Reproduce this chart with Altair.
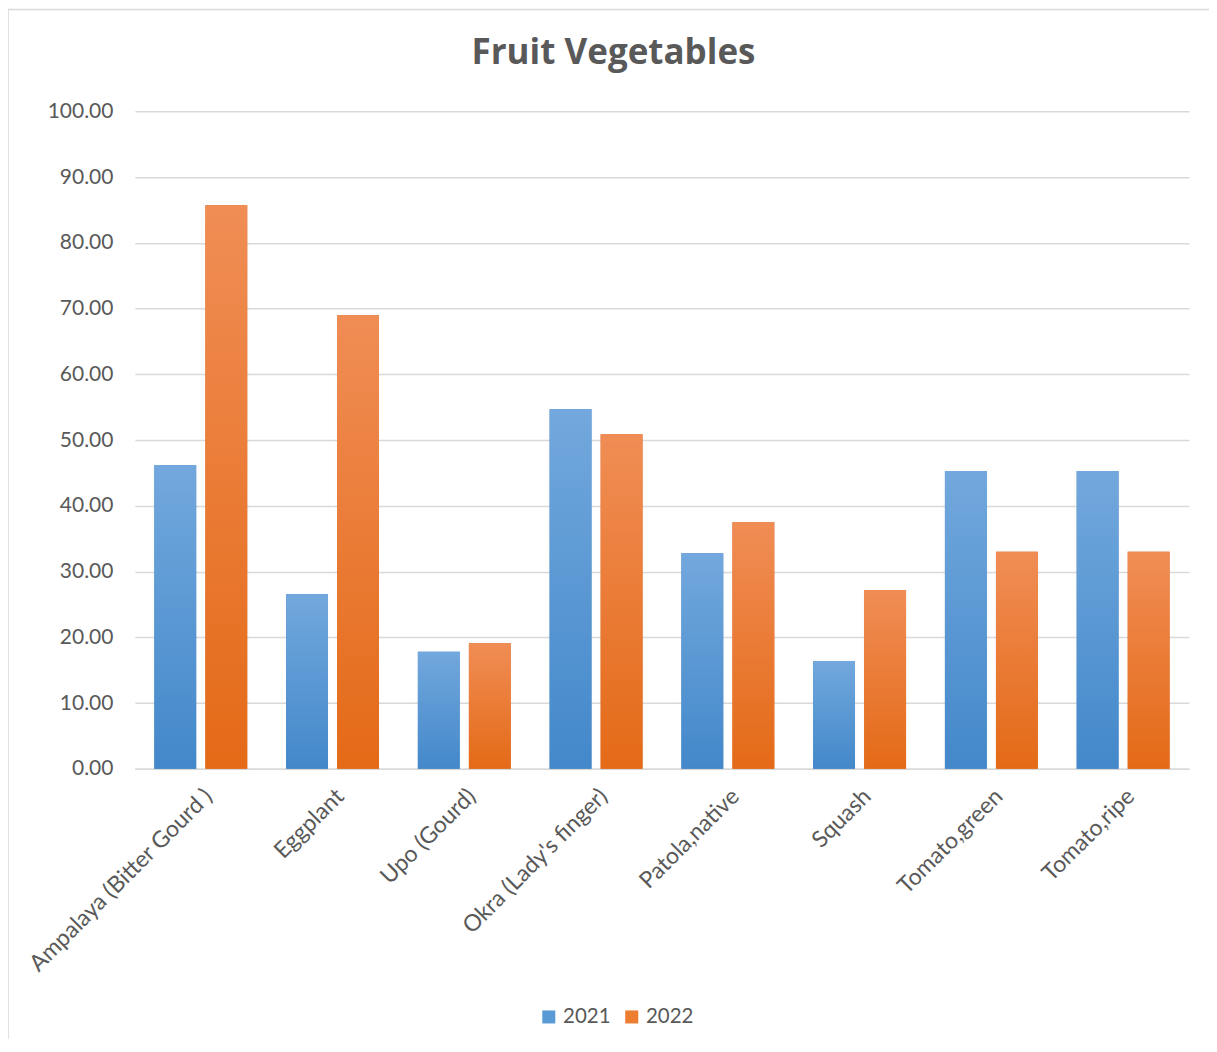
import altair as alt
import pandas as pd

categories = ["Ampalaya (Bitter Gourd )", "Eggplant", "Upo (Gourd)", "Okra (Lady's finger)",
              "Patola,native", "Squash", "Tomato,green", "Tomato,ripe"]
values_2021 = [46.2, 26.6, 17.8, 54.7, 32.8, 16.4, 45.3, 45.3]
values_2022 = [85.7, 69.0, 19.1, 50.9, 37.5, 27.2, 33.0, 33.0]
years = ["2021", "2022"]
title_text = "Fruit Vegetables"

rows = []
for c, a, b in zip(categories, values_2021, values_2022):
    rows.append({"category": c, "year": "2021", "value": a})
    rows.append({"category": c, "year": "2022", "value": b})
df = pd.DataFrame(rows)

FONT = "Lato"
GREY = "#595959"

x_enc = alt.X("category:N", sort=categories,
              scale=alt.Scale(paddingInner=0.295, paddingOuter=0.1475),
              axis=alt.Axis(title=None, labelAngle=-45, labelFontSize=23, labelColor=GREY,
                            labelFont=FONT, ticks=False, domainColor="#d9d9d9", domainWidth=1.5,
                            labelPadding=16, labelLimit=0))
xo_enc = alt.XOffset("year:N", scale=alt.Scale(domain=years, paddingInner=0.18, paddingOuter=0))
y_enc = alt.Y("value:Q", scale=alt.Scale(domain=[0, 100]),
              axis=alt.Axis(title=None, values=list(range(0, 101, 10)), format=".2f",
                            labelFontSize=21, labelColor=GREY, labelFont=FONT, ticks=False,
                            domain=False, gridColor="#d9d9d9", gridWidth=1.5, labelPadding=22))

base = alt.Chart(df)

legend_layer = base.mark_bar().encode(
    x=x_enc, xOffset=xo_enc, y=y_enc,
    color=alt.Color("year:N", scale=alt.Scale(domain=years, range=["#5B9BD5", "#ED7D31"]),
                    legend=alt.Legend(title=None, orient="none", legendX=404, legendY=896,
                                      direction="horizontal", symbolType="square", symbolSize=170,
                                      labelFontSize=20.5, labelColor=GREY, labelFont=FONT,
                                      columnPadding=10, labelOffset=4, symbolStrokeWidth=0)),
)

shadow = base.mark_bar(color="#000000", opacity=0.10, stroke="#000000", strokeOpacity=0.06,
                       strokeWidth=4).encode(
    x=x_enc, xOffset=xo_enc, y=y_enc)

blue_grad = alt.Gradient(gradient="linear", x1=0, y1=0, x2=0, y2=1,
                         stops=[alt.GradientStop(color="#72A8DD", offset=0),
                                alt.GradientStop(color="#4388CA", offset=1)])
orange_grad = alt.Gradient(gradient="linear", x1=0, y1=0, x2=0, y2=1,
                           stops=[alt.GradientStop(color="#F08D55", offset=0),
                                  alt.GradientStop(color="#E46A17", offset=1)])

bars_2021 = base.transform_filter(alt.datum.year == "2021").mark_bar(color=blue_grad).encode(
    x=x_enc, xOffset=xo_enc, y=y_enc)
bars_2022 = base.transform_filter(alt.datum.year == "2022").mark_bar(color=orange_grad).encode(
    x=x_enc, xOffset=xo_enc, y=y_enc)

one = pd.DataFrame({"t": [title_text]})
border = alt.Chart(one).mark_rule(color="#d9d9d9", strokeWidth=1.5).encode(
    x=alt.value(-127), x2=alt.value(1075), y=alt.value(-102))
border_left = alt.Chart(one).mark_rule(color="#d9d9d9", strokeWidth=1.5).encode(
    x=alt.value(-127), y=alt.value(-102), y2=alt.value(940))
title = alt.Chart(one).mark_text(font="Open Sans", fontSize=35, fontWeight="bold", color=GREY,
                                 align="center", baseline="alphabetic").encode(
    text="t:N", x=alt.value(479), y=alt.value(-47))

chart = alt.layer(border, border_left, title, legend_layer, shadow, bars_2021, bars_2022).properties(
    width=1055, height=658,
    padding={"left": 127, "top": 103, "right": 20, "bottom": 270},
    autosize=alt.AutoSizeParams(type="none"),
).configure_view(stroke=None)

chart.save("out.html", embed_options={"renderer": "svg", "actions": False})
